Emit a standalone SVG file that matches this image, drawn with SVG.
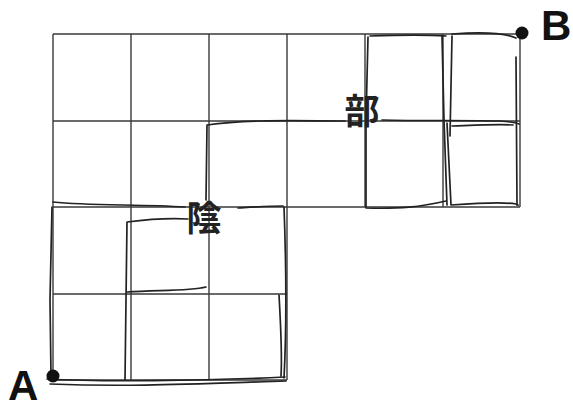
<svg xmlns="http://www.w3.org/2000/svg" width="573" height="411" viewBox="0 0 573 411">
<style>
.grid{fill:none;stroke:#3a3a3a;stroke-width:1.4}
.sk{fill:none;stroke:#222;stroke-width:1.7;stroke-linecap:round;stroke-linejoin:round}
.lbl{font-family:"Liberation Sans",Arial,sans-serif;font-weight:bold;font-size:42px;fill:#111}
.cjk{font-family:"Noto Sans CJK JP","Noto Sans CJK SC",sans-serif;font-weight:bold;font-size:35px;fill:#222}
</style>
<rect width="573" height="411" fill="#fff"/>
<g id="grid">
<path class="grid" d="M53,34H520M53,121H520M53,207H520M53,294H287M53,380H287"/>
<path class="grid" d="M53,34V380M131,34V380M209,34V380M287,34V380M365,34V207M443,34V207M520,34V207"/>
</g>
<g id="connectors">
<path class="sk" d="M47,379 C100,382 200,381 285,377"/>
<path class="sk" d="M50,384 C130,387 190,384 286,381"/>
<path class="sk" d="M51,376 L50,300 L52,207"/>
<path class="sk" d="M53,202 C90,206 140,204 185,207 M238,208 C255,207 270,206 283,206"/>
<path class="sk" d="M284,207 C286,260 287,320 284,378"/>
<path class="sk" d="M279,295 C281,330 282,360 281,376"/>
<path class="sk" d="M125,380 L126,300 L127,222 C150,219 170,218 188,219"/>
<path class="sk" d="M127,292 C160,290 190,291 206,287"/>
<path class="sk" d="M206,200 L207,125 C250,119 300,121 345,121 M382,120 C420,121 470,120 500,121 C510,122 515,122 519,124"/>
<path class="sk" d="M368,37 L366,120 L366,208 C400,209 420,207 446,201"/>
<path class="sk" d="M370,36 C400,35 430,35 446,36"/>
<path class="sk" d="M442,36 L444,120 L447,205"/>
<path class="sk" d="M452,36 L450,136 M447,123 L451,205 C480,203 505,202 516,204 L518,205"/>
<path class="sk" d="M452,34 C480,32 505,33 516,38"/>
<path class="sk" d="M516,57 L517,205"/>
<path class="sk" d="M452,126 C480,125 500,124 513,125"/>
</g>
<g id="node-B">
<circle cx="522" cy="33" r="6.5" fill="#111"/>
<text class="lbl" x="541" y="40">B</text>
</g>
<g id="node-A">
<circle cx="53" cy="376" r="6.5" fill="#111"/>
<text class="lbl" x="8" y="400">A</text>
</g>
<g id="label-bu">
<text class="cjk" x="362" y="124" text-anchor="middle">部</text>
</g>
<g id="label-in">
<text class="cjk" x="204" y="231" text-anchor="middle">陰</text>
</g>
</svg>
